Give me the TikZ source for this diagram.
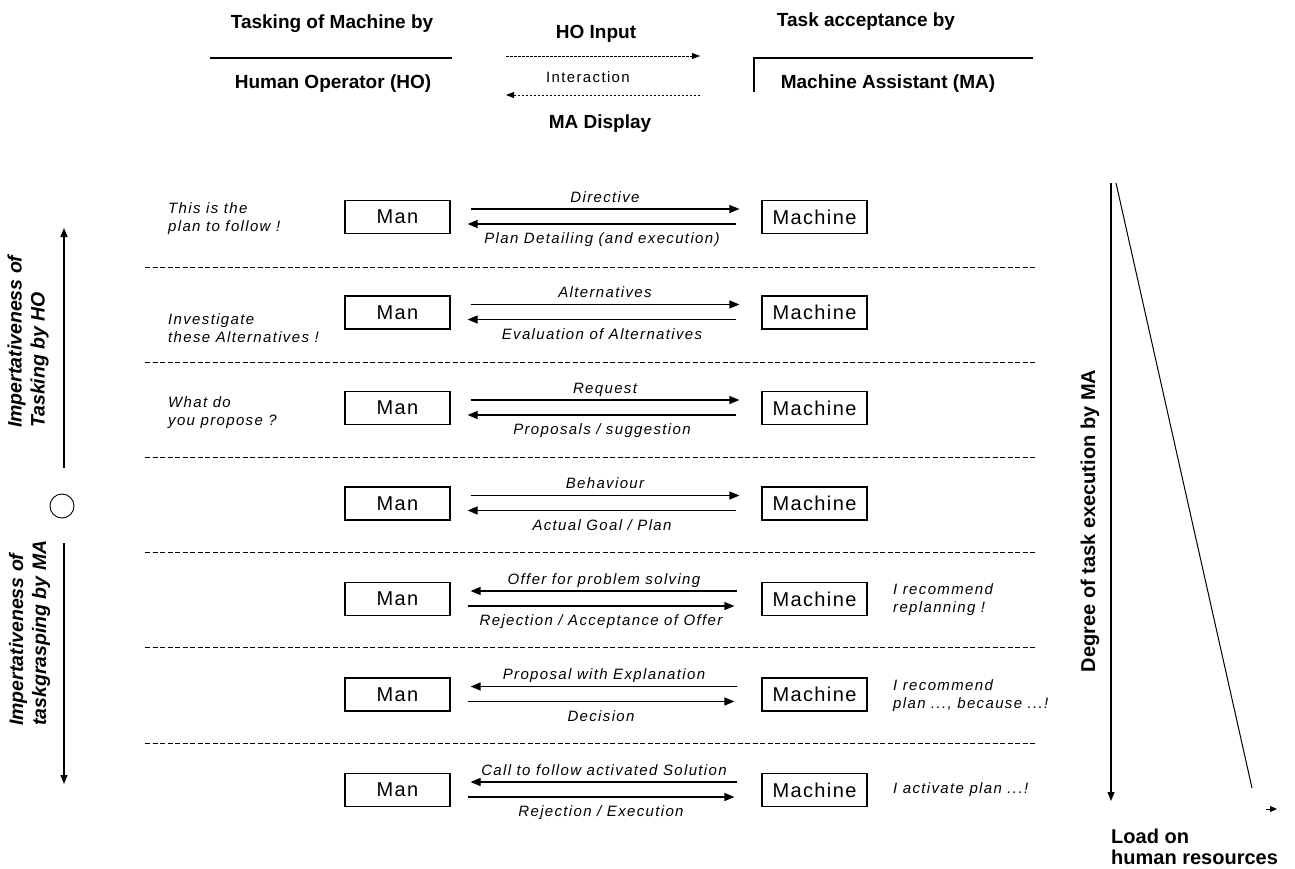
\documentclass[tikz,border=0pt]{standalone}
\usepackage{fontspec}
\setmainfont{Liberation Sans}
\newfontfamily\boxfont[LetterSpace=7]{Liberation Sans}
\newfontfamily\labfont[LetterSpace=9]{Liberation Sans}
\usetikzlibrary{arrows.meta,calc}
\begin{document}
\begin{tikzpicture}[x=1pt,y=-1pt,
  box/.style={draw,line width=1.2pt,minimum width=105pt,minimum height=33pt,inner sep=0pt,
    font=\boxfont\fontsize{20}{24}\selectfont},
  arr/.style={line width=1.2pt,-{Triangle[length=10pt,width=8pt]}},
  lab/.style={font=\labfont\itshape\fontsize{15}{18}\selectfont,inner sep=1pt,text height=10.5pt,text depth=3pt},
  side/.style={font=\labfont\itshape\fontsize{15}{18}\selectfont,align=left,inner sep=0pt,anchor=west},
  hdr/.style={font=\bfseries\fontsize{19}{22}\selectfont,inner sep=0pt},
  sepline/.style={line width=0.9pt,dash pattern=on 5pt off 2.5pt},
  dotarr/.style={line width=0.9pt,dash pattern=on 2.5pt off 1.5pt,-{Triangle[length=8pt,width=6pt]}},
  axis/.style={line width=1.3pt,-{Triangle[length=9pt,width=7pt]}},
  rotlab/.style={font=\bfseries\itshape\fontsize{19.5}{23}\selectfont,rotate=90,anchor=west,inner sep=0pt}
]
\useasboundingbox (0,0) rectangle (1295,869);

% ---------- header ----------
\node[hdr] (h1) at (332,24) {Tasking of Machine by};
\node[hdr] (h2) at (333,84) {Human Operator (HO)};
\coordinate (l1a) at (210,58);
\coordinate (l1b) at (452,58);
\draw[line width=1.1pt] (l1a) -- (l1b);

\node[hdr] (hin) at (596,34) {HO Input};
\node[font=\labfont\fontsize{15}{17}\selectfont,inner sep=0pt] (hint) at (588,77) {Interaction};
\node[hdr] (hdis) at (600,124) {MA Display};
\coordinate (d1a) at (506,56);
\coordinate (d1b) at (700,56);
\coordinate (d2a) at (700,95);
\coordinate (d2b) at (506,95);
\draw[dotarr] (d1a) -- (d1b);
\draw[dotarr] (d2a) -- (d2b);

\node[hdr] (h3) at (866,22) {Task acceptance by};
\node[hdr] (h4) at (888,84) {Machine Assistant (MA)};
\coordinate (l2t) at (754,92);
\coordinate (l2a) at (754,58);
\coordinate (l2b) at (1033,58);
\draw[line width=1.1pt] (l2t) -- (l2a) -- (l2b);

% ---------- rows ----------
\foreach \i/\yy in {1/217,2/312.5,3/408,4/503.5,5/599,6/694.5,7/790}{
  \node[box] (m\i) at (397.5,\yy) {Man};
  \node[box] (c\i) at (814.5,\yy) {Machine};
}

% separators
\foreach \yy in {267,362.5,457,552,647,743}{
  \draw[sepline] (145,\yy) -- (1035,\yy);
}

% Man -> Machine first
\draw[arr] ($(m1.east)+(20,-8)$) -- ($(c1.west)+(-22,-8)$) node[midway,above=2pt,lab] {Directive};
\draw[arr] ($(c1.west)+(-25,7)$) -- ($(m1.east)+(17,7)$) node[midway,below=7.5pt,lab] {Plan Detailing (and execution)};

\draw[arr] ($(m2.east)+(20,-8)$) -- ($(c2.west)+(-22,-8)$) node[midway,above=2pt,lab] {Alternatives};
\draw[arr] ($(c2.west)+(-25,7)$) -- ($(m2.east)+(17,7)$) node[midway,below=7.5pt,lab] {Evaluation of Alternatives};

\draw[arr] ($(m3.east)+(20,-8)$) -- ($(c3.west)+(-22,-8)$) node[midway,above=2pt,lab] {Request};
\draw[arr] ($(c3.west)+(-25,7)$) -- ($(m3.east)+(17,7)$) node[midway,below=7.5pt,lab] {Proposals / suggestion};

\draw[arr] ($(m4.east)+(20,-8)$) -- ($(c4.west)+(-22,-8)$) node[midway,above=2pt,lab] {Behaviour};
\draw[arr] ($(c4.west)+(-25,7)$) -- ($(m4.east)+(17,7)$) node[midway,below=7.5pt,lab] {Actual Goal / Plan};

% Machine -> Man first
\draw[arr] ($(c5.west)+(-24,-8)$) -- ($(m5.east)+(20,-8)$) node[midway,above=2pt,lab] {Offer for problem solving};
\draw[arr] ($(m5.east)+(17,7)$) -- ($(c5.west)+(-27,7)$) node[midway,below=7.5pt,lab] {Rejection / Acceptance of Offer};

\draw[arr] ($(c6.west)+(-24,-8)$) -- ($(m6.east)+(20,-8)$) node[midway,above=2pt,lab] {Proposal with Explanation};
\draw[arr] ($(m6.east)+(17,7)$) -- ($(c6.west)+(-27,7)$) node[midway,below=7.5pt,lab] {Decision};

\draw[arr] ($(c7.west)+(-24,-8)$) -- ($(m7.east)+(20,-8)$) node[midway,above=2pt,lab] {Call to follow activated Solution};
\draw[arr] ($(m7.east)+(17,7)$) -- ($(c7.west)+(-27,7)$) node[midway,below=7.5pt,lab] {Rejection / Execution};

% side texts
\node[side] (s1) at (168,219) {This is the\\plan to follow !};
\node[side] (s2) at (168,328) {Investigate\\these Alternatives !};
\node[side] (s3) at (168,413) {What do\\you propose ?};
\node[side] (s5) at (893,600) {I recommend\\replanning !};
\node[side] (s6) at (893,696) {I recommend\\plan ..., because ...!};
\node[side] (s7) at (893,790) {I activate plan ...!};

% ---------- left axis ----------
\coordinate (ua) at (64,468);
\coordinate (ub) at (64,228);
\coordinate (da) at (64,543);
\coordinate (db) at (64,784);
\draw[axis] (ua) -- (ub);
\draw[axis] (da) -- (db);
\node[draw,circle,line width=0.9pt,minimum size=24pt,inner sep=0pt] (mid) at (62,506) {};
\node[rotlab] (r1) at (28.5,428) {\begin{tabular}{@{}l@{}}Impertativeness of\\Tasking by HO\end{tabular}};
\node[rotlab] (r2) at (30,726) {\begin{tabular}{@{}l@{}}Impertativeness of\\taskgrasping by MA\end{tabular}};

% ---------- right axis ----------
\coordinate (ra) at (1111,183);
\coordinate (rb) at (1111,801);
\draw[axis] (ra) -- (rb);
\coordinate (ga) at (1116,183);
\coordinate (gb) at (1252,788);
\draw[line width=1pt] (ga) -- (gb);
\coordinate (ka) at (1266,809);
\coordinate (kb) at (1277,809);
\draw[line width=0.8pt,-{Triangle[length=7pt,width=6pt]}] (ka) -- (kb);
\node[font=\bfseries\fontsize{20}{23}\selectfont,rotate=90,inner sep=0pt] (rdeg) at (1090,521) {Degree of task execution by MA};
\node[font=\bfseries\fontsize{20}{21}\selectfont,align=left,anchor=north west,inner sep=0pt] (load) at (1111,829) {Load on\\human resources};
\end{tikzpicture}
\end{document}
